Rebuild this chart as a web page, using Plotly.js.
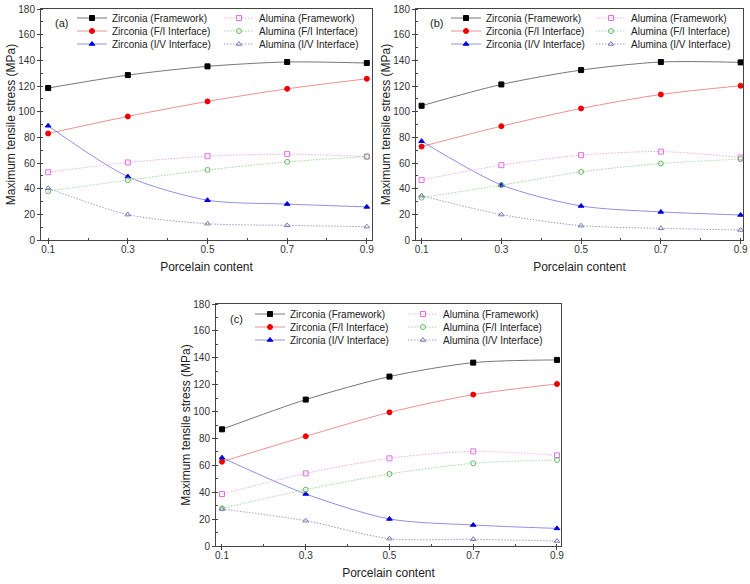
<!DOCTYPE html>
<html>
<head>
<meta charset="utf-8">
<script src="https://cdn.plot.ly/plotly-3.0.1.min.js"></script>
<style>html,body{margin:0;padding:0;background:#fff;}#chart{width:750px;height:584px;}</style>
</head>
<body>
<div id="chart"></div>
<script>
// ---- data ----
const porcelainContent = [0.1, 0.3, 0.5, 0.7, 0.9];
const seriesNames = ["Zirconia (Framework)", "Zirconia (F/I Interface)", "Zirconia (I/V Interface)",
                     "Alumina (Framework)", "Alumina (F/I Interface)", "Alumina (I/V Interface)"];
const panelLabels = ["(a)", "(b)", "(c)"];
const xTickLabels = ["0.1", "0.3", "0.5", "0.7", "0.9"];

const a_zrFramework = [118.4, 128.5, 135.3, 138.7, 137.9];
const a_zrFI        = [83.0, 96.3, 108.0, 117.8, 125.6];
const a_zrIV        = [89.0, 49.4, 31.0, 28.0, 25.8];
const a_alFramework = [52.8, 60.4, 65.3, 66.9, 65.0];
const a_alFI        = [38.0, 46.6, 54.6, 60.9, 65.0];
const a_alIV        = [40.3, 19.8, 12.7, 11.4, 10.4];

const b_zrFramework = [104.6, 121.2, 132.4, 138.7, 138.4];
const b_zrFI        = [72.8, 88.7, 102.5, 113.4, 120.2];
const b_zrIV        = [77.0, 42.9, 26.5, 21.9, 19.5];
const b_alFramework = [46.8, 58.3, 66.1, 68.9, 64.3];
const b_alFI        = [33.0, 42.7, 53.1, 59.6, 63.0];
const b_alIV        = [34.5, 19.8, 11.2, 9.1, 7.8];

const c_zrFramework = [86.8, 108.9, 126.0, 136.4, 138.4];
const c_zrFI        = [62.7, 81.6, 99.4, 112.6, 120.5];
const c_zrIV        = [65.7, 38.7, 20.1, 15.6, 13.1];
const c_alFramework = [38.7, 54.0, 65.2, 70.4, 67.4];
const c_alFI        = [28.0, 41.9, 53.6, 61.5, 64.0];
const c_alIV        = [27.5, 18.8, 5.5, 5.0, 3.7];

const panels = [
  [a_zrFramework, a_zrFI, a_zrIV, a_alFramework, a_alFI, a_alIV],
  [b_zrFramework, b_zrFI, b_zrIV, b_alFramework, b_alFI, b_alIV],
  [c_zrFramework, c_zrFI, c_zrIV, c_alFramework, c_alFI, c_alIV]
];

// ---- styles ----
const styles = [
  {line: "#777777", dash: "solid", marker: "square", mcolor: "#000000"},
  {line: "#f09090", dash: "solid", marker: "circle", mcolor: "#ee0000"},
  {line: "#9090e6", dash: "solid", marker: "triangle-up", mcolor: "#0000dd"},
  {line: "#eeaaee", dash: "1.5px,1.5px", marker: "square-open", mcolor: "#e070e0"},
  {line: "#a0d8a0", dash: "1.5px,1.5px", marker: "circle-open", mcolor: "#66b866"},
  {line: "#9a9ac8", dash: "1.5px,1.5px", marker: "triangle-up-open", mcolor: "#7a7ab4"}
];

const FONT = "Liberation Sans, Arial, sans-serif";
const W = 750, H = 584;
// plot boxes in px: [left, right, top, bottom]
const boxes = [[41, 372, 9, 240], [416, 743, 9, 240], [216, 561, 304, 546]];
const xRanges = [[0.082, 0.913], [0.086, 0.906], [0.0857, 0.9096]];
// legend left x for [col1, col2], first row centre y, row step
const legendPos = [[72, 219, 18], [446, 591, 18], [250, 403, 314]];
const ROW_STEP = 13;

const traces = [];
const layout = {
  width: W, height: H,
  margin: {l: 0, r: 0, t: 0, b: 0},
  paper_bgcolor: "#fff", plot_bgcolor: "#fff",
  font: {family: FONT, size: 10, color: "#222"},
  annotations: [],
  showlegend: true
};

panels.forEach((series, p) => {
  const ax = p === 0 ? "" : String(p + 1);
  const lp = legendPos[p];
  series.forEach((vals, i) => {
    const st = styles[i];
    const legIdx = p * 6 + i + 1;
    const key = legIdx === 1 ? "legend" : "legend" + legIdx;
    traces.push({
      x: porcelainContent, y: vals,
      xaxis: "x" + ax, yaxis: "y" + ax,
      type: "scatter", mode: "lines+markers",
      name: seriesNames[i],
      legend: key, showlegend: true,
      line: {color: st.line, width: 1, dash: st.dash, shape: "spline", smoothing: 0.8},
      marker: {symbol: st.marker, size: 5, color: st.mcolor, line: {color: st.mcolor, width: 1}}
    });
    const col = i < 3 ? 0 : 1;
    const row = i % 3;
    layout[key] = {
      x: lp[col] / W, y: (H - (lp[2] + row * ROW_STEP)) / H,
      xanchor: "left", yanchor: "middle",
      bgcolor: "rgba(0,0,0,0)", borderwidth: 0,
      font: {family: FONT, size: 10, color: "#222"},
      itemwidth: 30
    };
  });
  const b = boxes[p];
  const axisCommon = {
    showline: true, linecolor: "#444", linewidth: 1, mirror: true,
    showgrid: false, zeroline: false,
    ticks: "outside", ticklen: 3, tickcolor: "#444", tickwidth: 1,
    tickfont: {family: FONT, size: 10, color: "#333"}
  };
  layout["xaxis" + ax] = Object.assign({}, axisCommon, {
    domain: [b[0] / W, b[1] / W],
    anchor: "y" + ax,
    range: xRanges[p],
    tickmode: "array", tickvals: porcelainContent, ticktext: xTickLabels,
    ticklabelstandoff: -3,
    minor: {ticks: "inside", ticklen: 2, tickcolor: "#444", dtick: 0.1, tick0: 0.1},
    title: {text: "Porcelain content", font: {family: FONT, size: 12, color: "#222"}, standoff: 8}
  });
  layout["yaxis" + ax] = Object.assign({}, axisCommon, {
    domain: [(H - b[3]) / H, (H - b[2]) / H],
    anchor: "x" + ax,
    range: [0, 180], dtick: 20, tick0: 0,
    minor: {ticks: "inside", ticklen: 2, tickcolor: "#444", dtick: 10},
    title: {text: "Maximum tensile stress (MPa)", font: {family: FONT, size: 12, color: "#222"}, standoff: 0}
  });
  layout.annotations.push({
    xref: "x" + ax + " domain", yref: "y" + ax + " domain",
    x: 0.036, y: 0.94, xanchor: "left", yanchor: "middle",
    text: panelLabels[p], showarrow: false,
    font: {family: FONT, size: 11, color: "#222"}
  });
});

Plotly.newPlot("chart", traces, layout, {displayModeBar: false, staticPlot: true});
</script>
</body>
</html>
